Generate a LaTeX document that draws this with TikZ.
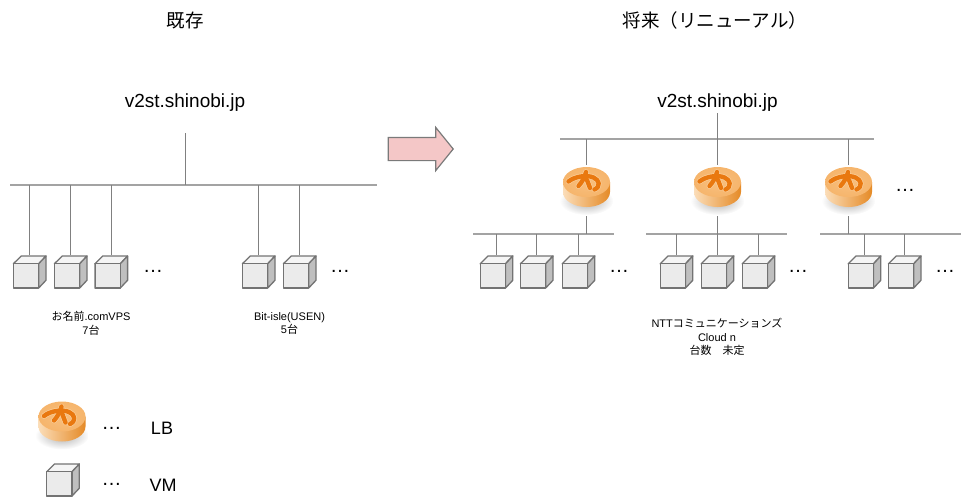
\documentclass[tikz,border=0pt]{standalone}
\usepackage{fontspec}
\setmainfont{Liberation Sans}
\newfontfamily\cjk{Noto Sans CJK JP}
\usetikzlibrary{shapes.arrows}
\definecolor{lbtop}{HTML}{F6B56C}
\definecolor{lbmark}{HTML}{E9780F}
\definecolor{lbhalo}{HTML}{FBD3A2}
\definecolor{lbdark}{HTML}{E58A26}
\definecolor{lblight}{HTML}{FBDDB8}
\definecolor{movefill}{HTML}{F4C7C7}
\begin{document}
\begin{tikzpicture}[x=1pt,y=-1pt]
        \tikzstyle{title}=[inner sep=0pt,font=\cjk\fontsize{18.5}{20}\selectfont]
        \tikzstyle{host}=[inner sep=1pt,font=\fontsize{19}{21}\selectfont]
        \tikzstyle{note}=[inner sep=0pt,align=center,font=\fontsize{11}{13.5}\selectfont]
        \tikzstyle{dots}=[inner sep=0pt,font=\fontsize{20}{22}\selectfont]
        \tikzstyle{key}=[inner sep=0pt,font=\fontsize{18}{20}\selectfont]
        \tikzstyle{bus}=[draw=black!36,line width=2.2pt]
        \tikzstyle{stem}=[draw=black!50,line width=1.5pt]
        % both pictures are written from the centre of their node
        \tikzstyle{vm}=[inner sep=0pt,outer sep=0pt,minimum width=34pt,minimum height=33.5pt,
          path picture={\begin{scope}[draw=black!55,line width=1.3pt,line join=round]
            \filldraw[fill=black!4] (-16.3,-8.25) -- (-8.5,-16) -- (16.3,-16) -- (9,-8.25) -- cycle;
            \filldraw[fill=black!25] (9,-8.25) -- (16.3,-16) -- (16.3,8.25) -- (9,16) -- cycle;
            \filldraw[fill=black!8] (-16.3,-8.25) rectangle (9,16);
          \end{scope}}]
        \tikzstyle{lb}=[inner sep=0pt,outer sep=0pt,minimum width=52pt,minimum height=51pt,
          path picture={\begin{scope}[line cap=round,line join=round]
            \shade[inner color=black!32,outer color=white] (0,10.5) ellipse [x radius=27pt,y radius=14pt];
            \shade[left color=lblight,right color=lbdark] (-23.5,-8.5) -- (-23.5,1.5) arc [start angle=180,end angle=360,x radius=23.5pt,y radius=15pt] -- (23.5,-8.5) -- cycle;
            \shade[inner color=lbtop!75!lblight,outer color=lbtop] (0,-8.5) ellipse [x radius=23.5pt,y radius=15pt];
            \draw[lbhalo,line width=5.6pt] (-18,-9) .. controls (-12,-14) and (0,-16) .. (7,-13) .. controls (13,-10.5) and (14.5,-4) .. (8,-1);
            \draw[lbhalo,line width=5.6pt] (-.5,-18.5) .. controls (-1.5,-13.5) and (-4.5,-8.5) .. (-8,-4.5);
            \draw[lbhalo,line width=5.6pt] (.5,-10.5) -- (3.5,-2.5);
            \draw[lbmark,line width=4.4pt] (-18,-9) .. controls (-12,-14) and (0,-16) .. (7,-13) .. controls (13,-10.5) and (14.5,-4) .. (8,-1);
            \draw[lbmark,line width=4.4pt] (-.5,-18.5) .. controls (-1.5,-13.5) and (-4.5,-8.5) .. (-8,-4.5);
            \draw[lbmark,line width=4.4pt] (.5,-10.5) -- (3.5,-2.5);
          \end{scope}}]
        \useasboundingbox (0,0) rectangle (973,503);

        \node [title] (oldtitle) at (185,20) {既存};
        \node [title] (newtitle) at (715,20) {将来（リニューアル）};
        \node [host] (oldhost) at (185,103) {v2st.shinobi.jp};
        \node [host] (newhost) at (717.5,103) {v2st.shinobi.jp};

        % existing side
        \coordinate (oldroot) at (185.5,133);
        \coordinate (oldbusa) at (10,185);
        \coordinate (oldbusb) at (377,185);
        \node [vm] (a1) at (29.7,272) {};
        \node [vm] (a2) at (70.7,272) {};
        \node [vm] (a3) at (111.3,272) {};
        \node [vm] (b1) at (258.7,272) {};
        \node [vm] (b2) at (299.7,272) {};
        \node [dots] (adots) at (153,271) {…};
        \node [dots] (bdots) at (340,271) {…};
        \node [note] (anote) at (91,323.5) {{\cjk お名前}.comVPS\\7{\cjk 台}};
        \node [note] (bnote) at (289.5,323.5) {Bit-isle(USEN)\\5{\cjk 台}};
        \draw[bus] (oldbusa) -- (oldbusb);
        \draw[stem] (oldroot) -- (oldroot |- oldbusa);
        \draw[stem] (a1.north) -- (a1.north |- oldbusa);
        \draw[stem] (a2.north) -- (a2.north |- oldbusa);
        \draw[stem] (a3.north) -- (a3.north |- oldbusa);
        \draw[stem] (b1.north) -- (b1.north |- oldbusa);
        \draw[stem] (b2.north) -- (b2.north |- oldbusa);

        \node [single arrow,draw=black!52,fill=movefill,line width=1.2pt,inner sep=0pt,outer sep=0pt,
          text width=0pt,text height=22pt,text depth=0pt,minimum height=65pt,
          single arrow head extend=10pt,single arrow tip angle=102] (move) at (416,149) {};

        % renewed side
        \coordinate (newbusa) at (560,139);
        \coordinate (newbusb) at (874,139);
        \node [lb] (lb1) at (586.5,190.5) {};
        \node [lb] (lb2) at (717.5,190.5) {};
        \node [lb] (lb3) at (848.5,190.5) {};
        \node [dots] (lbdots) at (905,190) {…};
        \coordinate (c1busa) at (473,234);
        \coordinate (c1busb) at (614,234);
        \coordinate (c2busa) at (646,234);
        \coordinate (c2busb) at (787,234);
        \coordinate (c3busa) at (820,234);
        \coordinate (c3busb) at (961,234);
        \node [vm] (c11) at (496.5,272) {};
        \node [vm] (c12) at (536.7,272) {};
        \node [vm] (c13) at (578.5,272) {};
        \node [vm] (c21) at (676.5,272) {};
        \node [vm] (c22) at (717.5,272) {};
        \node [vm] (c23) at (758.5,272) {};
        \node [vm] (c31) at (864.5,272) {};
        \node [vm] (c32) at (904.7,272) {};
        \node [dots] (c1dots) at (619,271) {…};
        \node [dots] (c2dots) at (798,271) {…};
        \node [dots] (c3dots) at (945,271) {…};
        \node [note] (cnote) at (717,337) {NTT{\cjk コミュニケーションズ}\\Cloud n\\{\cjk 台数　未定}};
        \draw[bus] (newbusa) -- (newbusb);
        \draw[stem] (newhost.south) -- (newhost.south |- newbusa);
        \draw[stem] (lb1.north) -- (lb1.north |- newbusa);
        \draw[stem] (lb2.north) -- (lb2.north |- newbusa);
        \draw[stem] (lb3.north) -- (lb3.north |- newbusa);
        \draw[bus] (c1busa) -- (c1busb);
        \draw[bus] (c2busa) -- (c2busb);
        \draw[bus] (c3busa) -- (c3busb);
        \draw[stem] (lb1.south) -- (lb1.south |- c1busa);
        \draw[stem] (lb2.south) -- (lb2.south |- c2busa);
        \draw[stem] (lb3.south) -- (lb3.south |- c3busa);
        \draw[stem] (c11.north) -- (c11.north |- c1busa);
        \draw[stem] (c12.north) -- (c12.north |- c1busa);
        \draw[stem] (c13.north) -- (c13.north |- c1busa);
        \draw[stem] (c21.north) -- (c21.north |- c2busa);
        \draw[stem] (c22.north) -- (c22.north |- c2busa);
        \draw[stem] (c23.north) -- (c23.north |- c2busa);
        \draw[stem] (c31.north) -- (c31.north |- c3busa);
        \draw[stem] (c32.north) -- (c32.north |- c3busa);

        % legend
        \node [lb] (keylb) at (62,425) {};
        \node [vm] (keyvm) at (63,480) {};
        \node [dots] (keylbdots) at (111.5,428) {…};
        \node [dots] (keyvmdots) at (111.5,484) {…};
        \node [key] (keylbtext) at (162,428) {LB};
        \node [key] (keyvmtext) at (163,485) {VM};
\end{tikzpicture}
\end{document}
